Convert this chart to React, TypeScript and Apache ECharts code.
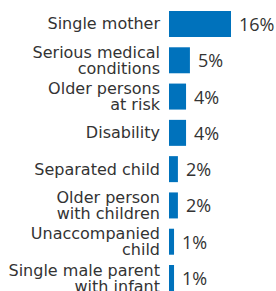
import React, { useEffect, useRef } from "react";
import * as echarts from "echarts";

const categories = [
  "Single mother",
  "Serious medical\nconditions",
  "Older persons\nat risk",
  "Disability",
  "Separated child",
  "Older person\nwith children",
  "Unaccompanied\nchild",
  "Single male parent\nwith infant",
];
const values = [16, 5.4, 4.4, 4.4, 2.3, 2.3, 1.3, 1.3];
const valueLabels = ["16%", "5%", "4%", "4%", "2%", "2%", "1%", "1%"];

export default function App() {
  const ref = useRef<HTMLDivElement>(null);
  useEffect(() => {
    const chart = echarts.init(ref.current!, null, { renderer: "svg" });
    chart.setOption({
      animation: false,
      grid: { left: 169, top: 5.85, width: 100, height: 290.3, containLabel: false },
      xAxis: {
        type: "value",
        min: 0,
        max: 100 / 3.875,
        show: false,
      },
      yAxis: {
        type: "category",
        data: categories,
        inverse: true,
        axisLine: { show: false },
        axisTick: { show: false },
        axisLabel: {
          margin: 9,
          color: "#333333",
          fontFamily: "DejaVu Sans",
          fontSize: 16,
          lineHeight: 16,
          align: "right",
        },
      },
      series: [
        {
          type: "bar",
          data: values,
          barWidth: 26,
          itemStyle: { color: "#0072bc" },
          label: {
            show: true,
            position: "right",
            distance: 8,
            color: "#333333",
            fontFamily: "Open Sans",
            fontSize: 18,
            formatter: (p: any) => valueLabels[p.dataIndex],
          },
        },
      ],
    });
    return () => chart.dispose();
  }, []);
  return (
    <div
      ref={ref}
      style={{ position: "absolute", left: 0, top: 0, width: 276, height: 300 }}
    />
  );
}
